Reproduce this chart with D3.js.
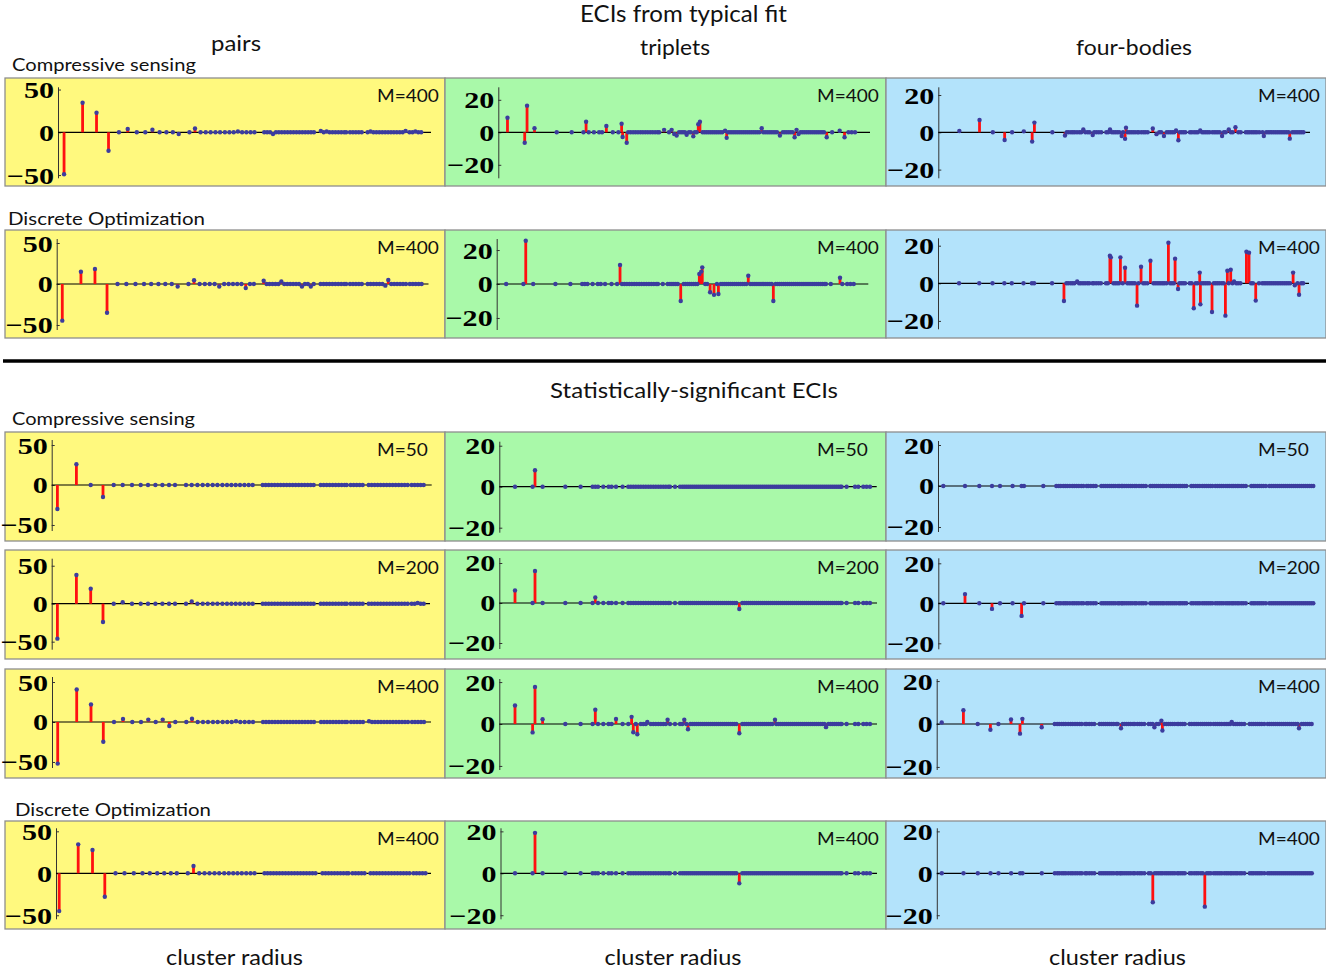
<!DOCTYPE html>
<html>
<head>
<meta charset="utf-8">
<script src="https://cdn.jsdelivr.net/npm/d3@7"></script>
<style>
  html, body { margin: 0; padding: 0; background: #fff; }
  svg { display: block; }
</style>
</head>
<body>
<svg id="fig" width="1326" height="973"></svg>
<script>
// ---------------------------------------------------------------
// Cluster radii (arbitrary radius units) for each cluster family
// ---------------------------------------------------------------
const pairRadii = [5.7, 24.7, 39, 51.3, 62, 71, 80.3, 89, 96.3, 103.7, 110.7, 117.3, 123.3,
  134.3, 140, 145.7, 151, 156, 161, 165.7, 170.7, 175.3, 179.7, 184, 188.3, 192.7, 197, 201,
  211, 214, 217, 220, 223, 226, 229, 232, 235, 238, 241, 244, 247, 250, 253, 256, 259, 262,
  269, 272, 275, 278, 281, 284, 287, 290, 293, 295,
  299, 302, 305, 308, 311,
  317, 320, 323, 326, 329, 332, 335, 338, 341, 344, 347, 350, 353, 356,
  360, 363, 366, 369, 372];

const tripletRadii = [15.7, 33.3, 35.7, 43.3, 66, 81.3, 93.3, 96, 98.7, 104, 109.3, 112.3, 116.7, 123.3,
  129, 131.5, 134, 136.5, 139, 141.5, 144, 146.5, 149, 151.5, 154, 156.5, 159, 161.5, 164, 166.5, 169, 170.7,
  175.7,
  180.7, 183, 185, 187, 189, 191, 193, 195, 197, 199, 201, 203, 205, 207, 209, 211, 213, 215, 217, 219,
  221, 223, 225, 227, 229, 231, 233, 235, 237, 239, 241, 243, 245, 247, 249, 251, 253, 255, 257, 259,
  261, 263, 265, 267, 269, 271, 273, 275, 277, 279, 281, 283, 285, 287, 289, 291, 293, 295, 297, 299,
  301, 303, 305, 307, 309, 311, 313, 315, 317, 319, 321, 323, 325, 327, 329, 331, 333, 335, 337, 339, 341, 342.3,
  347.3, 355.7, 359, 364, 367.3, 370.7];

const quadRadii = [5, 26.7, 41, 53.7, 61.7, 74.3, 83.3, 85.7, 105,
  118, 120.5, 122.5, 125, 127, 129, 131.5, 134, 136, 138.3, 140.5, 143, 145, 148.4, 150, 152.5, 155, 157.5,
  163, 165, 167, 169, 171, 173, 175, 177, 179.6, 181, 183.2, 184.2, 186, 188, 190, 192, 194, 196.4, 198, 200.7, 203, 205, 207.5,
  212, 214, 216, 218, 220, 222, 224, 225.7, 228, 230, 232, 234, 236, 238, 240.5, 242, 244, 246, 248,
  253, 255, 257.4, 259.5, 261.5, 264, 266, 268, 270, 272, 274, 277, 279, 281, 283, 285, 287.5, 289.5,
  291.4, 293.5, 295, 297, 299, 300.7, 303, 305, 307.5,
  313, 315, 316.8, 319, 321, 323, 325, 327.5,
  331, 333, 335, 337, 339, 341, 343, 345, 347, 349, 351, 353, 355, 357, 359, 361, 363, 365, 367, 369, 371, 373, 375];

// ---------------------------------------------------------------
// Non-zero ECIs, [cluster radius, ECI]; every other cluster is 0
// ---------------------------------------------------------------
// Typical fit, compressive sensing, M=400
const csTypicalPairs = [[5.7, -49], [24.7, 34.6], [39, 22.9], [51.3, -21.5], [71, 4], [96.3, 3],
  [123.3, -2], [140, 4.5], [184, 1], [220, -2], [269, 1.5], [275, 1], [320, 1], [356, 1.5], [366, 1]];
const csTypicalTriplets = [[15.7, 9], [33.3, -6.4], [35.7, 16.4], [43.3, 2.5], [96, 6.5], [116.7, 3.9],
  [132.3, 5.3], [133.3, -2.9], [137.5, -6.4], [175.7, 1.5], [183.4, 1.5], [186, -1], [188.5, -2],
  [198.7, -1.5], [205.5, -2.5], [210.6, 5], [212.3, 6.5], [238, 1], [239.6, -3.4], [275.4, 2.5],
  [294, -2], [309, -3], [311, 1.5], [313, -1], [341.8, -3], [355, 1], [360, -3]];
const csTypicalQuads = [[5, 0.7], [26.7, 6.6], [53.7, -4.1], [74.3, 0.5], [83.3, -5], [85.7, 5.2],
  [118.6, -1.7], [138.3, 1.5], [148.4, -1.5], [167, 1.5], [179.6, -2], [183.2, -3.5], [184.2, 2.5],
  [213, 2], [217, -1], [225, -2], [238, 1], [240.5, -4.3], [264, 1], [287.5, -2], [294.7, 1.5],
  [301.9, 2.7], [332.4, -2], [360.3, -3.4]];

// Typical fit, discrete optimization, M=400
const doTypicalPairs = [[5.7, -44.7], [24.7, 15], [39, 18.3], [51.3, -35], [123.3, -3], [140, 4.5],
  [165.7, -3], [192.7, -5], [211, 4], [229, 3], [250, -3], [259, -3], [335, -2], [338, 5]];
const doTypicalTriplets = [[35.7, 25.5], [132, 11.2], [194, -10], [213, 5.9], [215, 7.3], [216, 9.8],
  [224, -4.9], [228, -6.4], [232.5, -5.9], [263, 4.9], [288.6, -10], [356.7, 3.7]];
const doTypicalQuads = [[117.8, -9.4], [132, 1], [167.2, 14.7], [168.2, 13.8], [178.5, 13.8],
  [183.5, 8.3], [196.4, -11.9], [200.7, 8.8], [210.8, 12], [230.1, 21.6], [237.3, 13.1], [240.5, -3],
  [257.4, -13.3], [263.8, 5.7], [264.5, -11.2], [277, -15.3], [291.4, -17.2], [293.5, 6.7],
  [297.1, 7.2], [300.7, 1], [314, 16.8], [316.8, 16.3], [324, -9.2], [364.2, 5.7], [366, -1], [370.6, -6.1]];

// Statistically-significant ECIs, compressive sensing
const csM50Pairs = [[5.7, -30], [24.7, 26], [51.3, -15]];
const csM50Triplets = [[35.7, 8]];
const csM50Quads = [];
const csM200Pairs = [[5.7, -46], [24.7, 37.7], [39, 19.7], [51.3, -24], [71, 2], [140, 3], [366, 1]];
const csM200Triplets = [[15.7, 6.3], [35.7, 16], [96, 2.8], [240, -3]];
const csM200Quads = [[26.7, 4.6], [53.7, -2.8], [83.3, -6.3]];
const csM400Pairs = [[5.7, -52], [24.7, 40.6], [39, 22], [51.3, -24.7], [71, 3.9], [96.3, 3],
  [110.7, 3], [117.3, -5], [140, 4], [184, 1], [317, 1]];
const csM400Triplets = [[15.7, 8.8], [33.3, -4], [35.7, 17.7], [43.3, 2.3], [96, 6.8], [116.7, 2.4],
  [132.3, 3.4], [134, -3.9], [138, -4.9], [148, 1], [168.3, 2], [185, 2], [188.7, -2.5], [240, -4.4],
  [275.7, 2], [326.7, -1.5]];
const csM400Quads = [[5, 0.7], [26.7, 6.4], [53.7, -2.7], [74.3, 2.1], [83.3, -4.5], [85.7, 2.4],
  [105, -1.5], [184.3, -2], [217.7, -1.5], [224.7, 1.5], [225.7, -3], [295, 1], [362.3, -2]];

// Statistically-significant ECIs, discrete optimization
const doM400Pairs = [[5.7, -45], [24.7, 34.5], [39, 27.7], [51.3, -28], [140, 8.7]];
const doM400Triplets = [[35.7, 19.3], [240, -4.8]];
const doM400Quads = [[216, -13.8], [268, -15.9]];

// Labels
const columnTitles = ["pairs", "triplets", "four-bodies"];
const pairTicks = [-50, 0, 50];
const multiTicks = [-20, 0, 20];
const sampleLabels = ["M=400", "M=400", "M=50", "M=200", "M=400", "M=400"];

// ---------------------------------------------------------------
// Layout
// ---------------------------------------------------------------
const RMAX = 380;
const HALF = 45.5;          // half-height of each vertical axis, px
const columns = [
  { radii: pairRadii,    ticks: pairTicks,  fill: "#fff97e", left: 5,   right: 445 },
  { radii: tripletRadii, ticks: multiTicks, fill: "#a9f9a9", left: 445, right: 886 },
  { radii: quadRadii,    ticks: multiTicks, fill: "#b3e3fb", left: 886, right: 1326 }
];
// per panel: axis x, x of radius 0, px per radius unit, end of zero line, zero y, half-domain
const rows = [
  { top: 78, bottom: 186, series: [csTypicalPairs, csTypicalTriplets, csTypicalQuads],
    geom: [
      { ax: 58,    x0: 58.5,  k: 0.975, xe: 431,   zy: 132.3, d: 53.2 },
      { ax: 498.3, x0: 492.1, k: 0.979, xe: 870,   zy: 132.3, d: 28 },
      { ax: 938.3, x0: 954.7, k: 0.93,  xe: 1310,  zy: 132.3, d: 24.4 } ] },
  { top: 230, bottom: 338, series: [doTypicalPairs, doTypicalTriplets, doTypicalQuads],
    geom: [
      { ax: 56.7,  x0: 56.7,  k: 0.981, xe: 428.5, zy: 284,   d: 55.5 },
      { ax: 496.7, x0: 490.8, k: 0.979, xe: 868.3, zy: 284,   d: 26.8 },
      { ax: 938,   x0: 954.4, k: 0.93,  xe: 1309,  zy: 283.3, d: 24.2 } ] },
  { top: 432, bottom: 541, series: [csM50Pairs, csM50Triplets, csM50Quads],
    geom: [
      { ax: 51.7,  x0: 51.7,  k: 1, xe: 431.7, zy: 485,   d: 56.9 },
      { ax: 499.3, x0: 499.3, k: 1, xe: 876.7, zy: 486.7, d: 22.2 },
      { ax: 938,   x0: 938.3, k: 1, xe: 1313,  zy: 486,   d: 22.2 } ] },
  { top: 550, bottom: 659, series: [csM200Pairs, csM200Triplets, csM200Quads],
    geom: [
      { ax: 51.7,  x0: 51.7,  k: 1, xe: 430,   zy: 603.7, d: 59.9 },
      { ax: 499.3, x0: 499.3, k: 1, xe: 877,   zy: 603,   d: 22.75 },
      { ax: 938.3, x0: 938.3, k: 1, xe: 1314,  zy: 603.3, d: 22.75 } ] },
  { top: 669, bottom: 778, series: [csM400Pairs, csM400Triplets, csM400Quads],
    geom: [
      { ax: 52,    x0: 52,    k: 1, xe: 431,   zy: 722,   d: 56.9 },
      { ax: 499.3, x0: 499.3, k: 1, xe: 877,   zy: 724,   d: 21.7 },
      { ax: 936.7, x0: 936.7, k: 1, xe: 1313,  zy: 724,   d: 21.2 } ] },
  { top: 821, bottom: 929, series: [doM400Pairs, doM400Triplets, doM400Quads],
    geom: [
      { ax: 56,    x0: 53.5,  k: 1, xe: 431,   zy: 873.3, d: 54.2 },
      { ax: 500.5, x0: 499.3, k: 1, xe: 877,   zy: 873.3, d: 21.7 },
      { ax: 936.8, x0: 936.8, k: 1, xe: 1313,  zy: 873.3, d: 21.7 } ] }
];

const svg = d3.select("#fig");
const LABEL_FONT = "Lato, 'Open Sans', sans-serif";

// text helper: horizontal stretch either fixed (sx) or fitted to a width
function label(parent, o) {
  const g = parent.append("g").attr("transform", `translate(${o.x},${o.y})`);
  const t = g.append("text")
    .attr("text-anchor", o.anchor || "start")
    .attr("font-family", o.family || LABEL_FONT)
    .attr("font-size", o.size)
    .attr("font-weight", o.weight || 400)
    .attr("fill", "#111")
    .text(o.text);
  let sx = o.sx || 1;
  if (o.width) sx = o.width / t.node().getComputedTextLength();
  t.attr("transform", `scale(${sx},1)`);
  return t;
}

// merge non-zero ECIs with the zero-valued clusters of a family
function clusterPoints(radii, nonzero) {
  const pts = nonzero.map(([r, v]) => ({ r, v }));
  radii.forEach(r => {
    if (!nonzero.some(([rn]) => Math.abs(rn - r) < 1.2)) pts.push({ r, v: 0 });
  });
  return pts.sort((a, b) => a.r - b.r);
}

rows.forEach((row, ri) => {
  columns.forEach((col, ci) => {
    const gm = row.geom[ci];
    const panel = svg.append("g");

    panel.append("rect")
      .attr("x", col.left).attr("y", row.top)
      .attr("width", col.right - col.left).attr("height", row.bottom - row.top)
      .attr("fill", col.fill).attr("stroke", "#8e8e8e").attr("stroke-width", 1.3);

    const x = d3.scaleLinear().domain([0, RMAX]).range([gm.x0, gm.x0 + gm.k * RMAX]);
    const y = d3.scaleLinear().domain([-gm.d, gm.d]).range([gm.zy + HALF, gm.zy - HALF]);

    // vertical axis with bold tick labels
    const axis = panel.append("g")
      .attr("transform", `translate(${gm.ax},0)`)
      .call(d3.axisLeft(y).tickValues(col.ticks).tickSize(-3).tickSizeOuter(0).tickPadding(4));
    axis.select(".domain").attr("stroke", "#333").attr("stroke-width", 1);
    axis.selectAll(".tick line").attr("stroke", "#333");
    const sxTick = 1.28;
    axis.selectAll(".tick text")
      .attr("font-family", "'Liberation Serif', 'Times New Roman', serif")
      .attr("font-weight", 700)
      .attr("font-size", 23.5)
      .attr("fill", "#000")
      .attr("dy", "0.34em")
      .each(function () {
        const t = d3.select(this);
        t.attr("x", +t.attr("x") / sxTick).attr("transform", `scale(${sxTick},1)`);
      });

    // zero line
    panel.append("line")
      .attr("x1", gm.ax).attr("x2", gm.xe)
      .attr("y1", y(0)).attr("y2", y(0))
      .attr("stroke", "#000").attr("stroke-width", 1.2);

    const pts = clusterPoints(col.radii, row.series[ci]);

    // stems
    panel.append("g").selectAll("line")
      .data(pts.filter(p => p.v !== 0))
      .join("line")
      .attr("x1", p => x(p.r)).attr("x2", p => x(p.r))
      .attr("y1", y(0)).attr("y2", p => y(p.v))
      .attr("stroke", "#ff1010").attr("stroke-width", 2.8);

    // cluster dots
    panel.append("g").selectAll("circle")
      .data(pts)
      .join("circle")
      .attr("cx", p => x(p.r)).attr("cy", p => y(p.v))
      .attr("r", 2.2)
      .attr("fill", "#3c3c9e");

    // sample-size label
    label(panel, { text: sampleLabels[ri], x: col.left + 372, y: row.top + 24, size: 18, sx: 1.06 });
  });
});

// titles and row labels
label(svg, { text: "ECIs from typical fit", x: 683.5, y: 22, anchor: "middle", size: 23, width: 207 });
label(svg, { text: columnTitles[0], x: 236, y: 51, anchor: "middle", size: 22, width: 50 });
label(svg, { text: columnTitles[1], x: 675, y: 55, anchor: "middle", size: 22, width: 70 });
label(svg, { text: columnTitles[2], x: 1134, y: 55, anchor: "middle", size: 22, width: 116 });
label(svg, { text: "Compressive sensing", x: 12, y: 71, size: 17.5, width: 184 });
label(svg, { text: "Discrete Optimization", x: 8, y: 224.5, size: 17.5, width: 197 });

svg.append("line")
  .attr("x1", 3).attr("x2", 1326).attr("y1", 361).attr("y2", 361)
  .attr("stroke", "#000").attr("stroke-width", 3.5);

label(svg, { text: "Statistically-significant ECIs", x: 694, y: 398, anchor: "middle", size: 22, width: 288 });
label(svg, { text: "Compressive sensing", x: 12, y: 425, size: 17.5, width: 183 });
label(svg, { text: "Discrete Optimization", x: 15, y: 815.5, size: 17.5, width: 196 });

[234.5, 673, 1117.5].forEach(cx => {
  label(svg, { text: "cluster radius", x: cx, y: 965, anchor: "middle", size: 22, width: 137 });
});
</script>
</body>
</html>
